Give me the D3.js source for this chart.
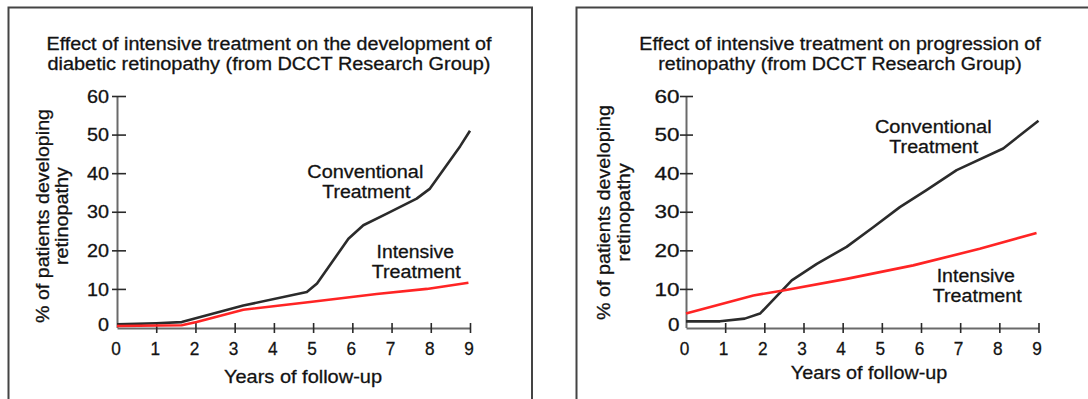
<!DOCTYPE html>
<html><head><meta charset="utf-8">
<script src="https://cdn.jsdelivr.net/npm/d3@7"></script>
<style>
html,body{margin:0;padding:0;background:#fff;}
svg{display:block;font-family:"Liberation Sans",Arial,Helvetica,sans-serif;}
svg text{stroke:#1a1a1a;stroke-width:0.3px;}
</style></head><body>
<svg id="chart" width="1088" height="399"></svg>
<script>
// ---------- data ----------
const xTickValues = [0, 1, 2, 3, 4, 5, 6, 7, 8, 9];
const yTickValues = [0, 10, 20, 30, 40, 50, 60];
const yAxisTitle = ["% of patients developing", "retinopathy"];
const xAxisTitle = "Years of follow-up";
const convLabel = ["Conventional", "Treatment"];
const intLabel = ["Intensive", "Treatment"];

const leftTitle = ["Effect of intensive treatment on the development of",
                   "diabetic retinopathy (from DCCT Research Group)"];
const leftConvYears  = [0, 1.0, 1.65, 3.22, 4.84, 5.1, 5.9, 6.28, 6.88, 7.64, 7.98, 8.75, 9.0];
const leftConvValues = [0.8, 1.1, 1.4, 5.7, 9.2, 11.4, 23.0, 26.5, 29.5, 33.4, 36.0, 47.0, 51.0];
const leftIntYears   = [0, 1.65, 2.03, 3.22, 4.92, 6.62, 7.9, 8.96];
const leftIntValues  = [0.4, 0.6, 1.4, 4.6, 6.6, 8.7, 10.0, 11.6];

const rightTitle = ["Effect of intensive treatment on progression of",
                    "retinopathy (from DCCT Research Group)"];
const rightConvYears  = [0, 0.87, 1.5, 1.89, 2.7, 3.34, 4.1, 4.78, 5.46, 6.14, 6.91, 8.1, 9.0];
const rightConvValues = [1.6, 1.6, 2.3, 3.6, 12.2, 16.5, 20.9, 26.0, 31.2, 35.6, 40.8, 46.4, 53.6];
const rightIntYears   = [0, 1.72, 2.48, 4.1, 5.8, 7.5, 8.95];
const rightIntValues  = [3.6, 8.3, 9.6, 12.6, 16.1, 20.4, 24.5];

// ---------- layout ----------
const panels = [
  {
    title: leftTitle, conv: [leftConvYears, leftConvValues], int: [leftIntYears, leftIntValues],
    border: {x1: 8.5, x2: 532, y: 7.5, right: true},
    xr: [117, 470], yr: [327.5, 96],
    titleX: 269, titleY: [50.2, 70.0], titleW: [445, 443],
    yLab: {x: [48.5, 68.3], cy: 216, w: [214, 98]},
    xLab: {x: 303, y: 383, w: 158},
    yTick: {inner: -5, outer: 9, labelX: -8, w2: 22, w1: 11},
    xTick: {dx: -1.5},
    convAnn: {x: [365.3, 366.3], y: [178.0, 197.8], w: [116, 88]},
    intAnn: {x: [415.3, 416.2], y: [258.3, 278.0], w: [77.5, 89]}
  },
  {
    title: rightTitle, conv: [rightConvYears, rightConvValues], int: [rightIntYears, rightIntValues],
    border: {x1: 576.5, x2: 1090, y: 7.5, right: false},
    xr: [686, 1038.5], yr: [327.5, 96],
    titleX: 840, titleY: [50.2, 70.0], titleW: [401.5, 363.5],
    yLab: {x: [610, 630], cy: 212.5, w: [215, 98.5]},
    xLab: {x: 869, y: 379.3, w: 156.5},
    yTick: {inner: -6, outer: 7, labelX: -6.5, w2: 25, w1: 11.5},
    xTick: {dx: -2},
    convAnn: {x: [933.3, 933.8], y: [133.3, 153.3], w: [116.7, 89]},
    intAnn: {x: [975.8, 977.2], y: [281.7, 301.7], w: [78.3, 89]}
  }
];

const textColor = "#111";
const convColor = "#2b2b2b";
const intColor = "#ff2424";
const fs = 17.6;
const svg = d3.select("#chart");
svg.append("rect").attr("width", 1088).attr("height", 399).attr("fill", "#fff");

panels.forEach(p => {
  const g = svg.append("g");
  // border
  const b = p.border;
  let d = `M${b.x1},402 L${b.x1},${b.y} L${b.x2},${b.y}`;
  if (b.right) d += ` L${b.x2},402`;
  g.append("path").attr("d", d).attr("fill", "none").attr("stroke", "#444").attr("stroke-width", 2);

  const x = d3.scaleLinear().domain([0, 9]).range(p.xr);
  const y = d3.scaleLinear().domain([0, 60]).range(p.yr);

  // title
  p.title.forEach((t, i) => {
    g.append("text").attr("x", p.titleX).attr("y", p.titleY[i])
      .attr("text-anchor", "middle").attr("font-size", fs).attr("fill", textColor)
      .attr("textLength", p.titleW[i]).attr("lengthAdjust", "spacingAndGlyphs").text(t);
  });

  // y axis
  const ya = g.append("g").attr("transform", `translate(${p.xr[0]},0)`)
    .call(d3.axisLeft(y).tickValues(yTickValues).tickSizeOuter(0).tickFormat(d3.format("d")));
  ya.select(".domain").attr("stroke", "#6a6a6a").attr("stroke-width", 2);
  ya.selectAll(".tick line").attr("x1", p.yTick.inner).attr("x2", p.yTick.outer)
    .attr("stroke", "#2a2a2a").attr("stroke-width", 1.6)
    .style("display", d => d === 0 ? "none" : null);
  ya.selectAll(".tick text").attr("x", p.yTick.labelX).attr("font-size", 17.5)
    .attr("font-family", null).attr("fill", textColor)
    .attr("textLength", d => String(d).length > 1 ? p.yTick.w2 : p.yTick.w1)
    .attr("lengthAdjust", "spacingAndGlyphs")
    .attr("dy", d => d === 0 ? "0.17em" : "0.35em");

  // x axis
  const xa = g.append("g").attr("transform", `translate(0,${p.yr[0] + 0.5})`)
    .call(d3.axisBottom(x).tickValues(xTickValues).tickSizeOuter(0).tickFormat(d3.format("d")));
  xa.select(".domain").attr("stroke", "#6a6a6a").attr("stroke-width", 2);
  xa.selectAll(".tick line").attr("y1", -5).attr("y2", 5)
    .attr("stroke", "#2a2a2a").attr("stroke-width", 1.6)
    .style("display", d => d === 0 ? "none" : null);
  xa.selectAll(".tick text").attr("y", 27).attr("dy", 0).attr("dx", p.xTick.dx)
    .attr("font-size", 19).attr("font-family", null).attr("fill", textColor)
    .attr("textLength", 9.6).attr("lengthAdjust", "spacingAndGlyphs");

  // axis titles
  yAxisTitle.forEach((t, i) => {
    g.append("text").attr("transform", `translate(${p.yLab.x[i]},${p.yLab.cy}) rotate(-90)`)
      .attr("text-anchor", "middle").attr("font-size", fs).attr("fill", textColor)
      .attr("textLength", p.yLab.w[i]).attr("lengthAdjust", "spacingAndGlyphs").text(t);
  });
  g.append("text").attr("x", p.xLab.x).attr("y", p.xLab.y)
    .attr("text-anchor", "middle").attr("font-size", 18.5).attr("fill", textColor)
    .attr("textLength", p.xLab.w).attr("lengthAdjust", "spacingAndGlyphs").text(xAxisTitle);

  // lines
  const line = d3.line().x(dd => x(dd[0])).y(dd => y(dd[1])).curve(d3.curveLinear);
  const convPts = d3.zip(p.conv[0], p.conv[1]);
  const intPts = d3.zip(p.int[0], p.int[1]);
  g.append("path").attr("d", line(convPts)).attr("fill", "none")
    .attr("stroke", convColor).attr("stroke-width", 2.6).attr("stroke-linejoin", "round");
  g.append("path").attr("d", line(intPts)).attr("fill", "none")
    .attr("stroke", intColor).attr("stroke-width", 2.6).attr("stroke-linejoin", "round");

  // annotations
  [[convLabel, p.convAnn], [intLabel, p.intAnn]].forEach(([lab, a]) => {
    lab.forEach((t, i) => {
      g.append("text").attr("x", a.x[i]).attr("y", a.y[i])
        .attr("text-anchor", "middle").attr("font-size", fs).attr("fill", textColor)
        .attr("textLength", a.w[i]).attr("lengthAdjust", "spacingAndGlyphs").text(t);
    });
  });
});
</script>
</body></html>
